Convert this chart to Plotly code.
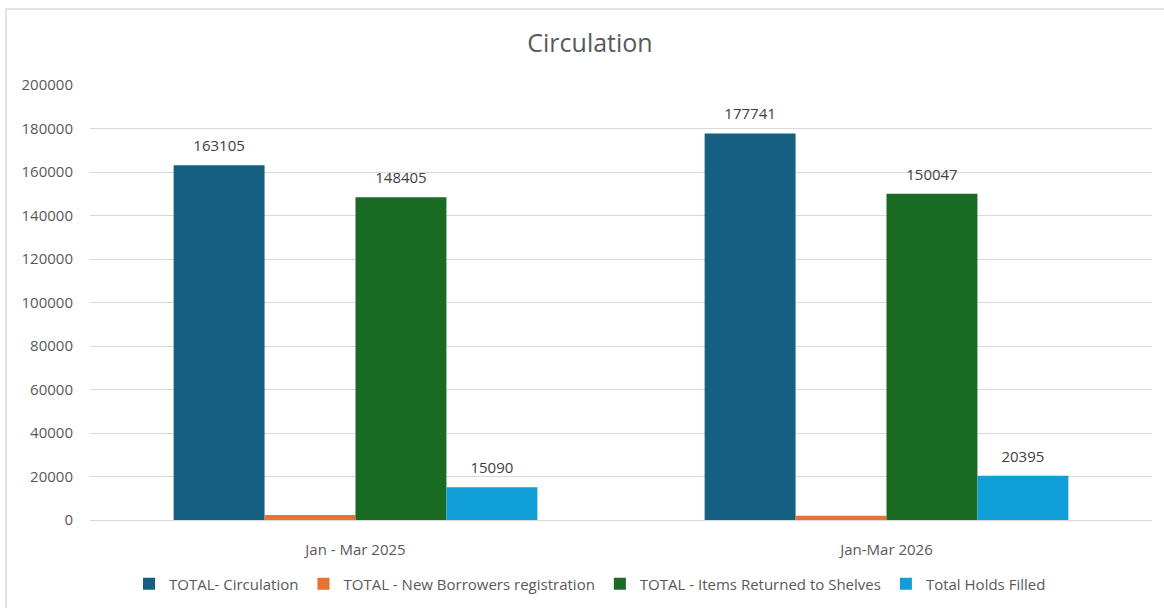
import plotly.graph_objects as go

categories = ["Jan - Mar 2025", "Jan-Mar 2026"]
series_names = [
    "TOTAL- Circulation",
    "TOTAL - New Borrowers registration",
    "TOTAL - Items Returned to Shelves",
    "Total Holds Filled",
]
circulation = [163105, 177741]
new_borrowers = [2350, 1900]
items_returned = [148405, 150047]
holds_filled = [15090, 20395]
show_labels = [True, False, True, True]
colors = ["#156082", "#E97132", "#196B24", "#0F9ED5"]
y_ticks = [0, 20000, 40000, 60000, 80000, 100000, 120000, 140000, 160000, 180000, 200000]

values = [circulation, new_borrowers, items_returned, holds_filled]

FONT = "Open Sans, sans-serif"
fig = go.Figure()
for name, vals, col, lab in zip(series_names, values, colors, show_labels):
    fig.add_trace(go.Bar(
        x=categories, y=vals, name=name, marker=dict(color=col, line=dict(width=0)),
        text=[str(v) for v in vals] if lab else None,
        texttemplate="<span style='font-size:15px'>%{text}</span><br> " if lab else None,
        textposition="outside" if lab else "none",
        textfont=dict(family=FONT, size=7, color="#404040"),
        cliponaxis=False,
    ))

W, H = 1164, 608
L, R, T, B = 90, 12, 85, 88
pw, ph = W - L - R, H - T - B

def px2paper_x(px):
    return (px - L) / pw

def px2paper_y(py):
    return (H - B - py) / ph

fig.update_layout(
    width=W, height=H,
    margin=dict(l=L, r=R, t=T, b=B, autoexpand=False),
    paper_bgcolor="white", plot_bgcolor="white",
    barmode="group", bargap=0.315, bargroupgap=0,
    title=dict(text="Circulation", x=px2paper_x(590), xref="paper", xanchor="center",
               y=1 - 43 / H, yanchor="middle",
               font=dict(family=FONT, size=25, color="#595959")),
    font=dict(family=FONT, color="#595959"),
    showlegend=True,
    legend=dict(orientation="h", x=px2paper_x(590), xanchor="center",
                y=px2paper_y(584), yanchor="middle", yref="paper",
                font=dict(family=FONT, size=15, color="#595959"),
                itemwidth=30, traceorder="normal"),
    xaxis=dict(showgrid=False, showline=True, linecolor="#d9d9d9", linewidth=1,
               tickfont=dict(family=FONT, size=15, color="#595959"),
               ticks="", ticklabelstandoff=16),
    yaxis=dict(range=[0, 200000], tickvals=y_ticks, ticktext=[str(v) for v in y_ticks],
               showgrid=True, gridcolor="#d9d9d9",
               gridwidth=1, zeroline=False, showline=False,
               tickfont=dict(family=FONT, size=15, color="#595959"),
               ticklabelstandoff=16),
    shapes=[dict(type="rect", xref="paper", yref="paper",
                 x0=px2paper_x(6), x1=px2paper_x(1175),
                 y0=px2paper_y(620), y1=px2paper_y(9),
                 line=dict(color="#d9d9d9", width=1.5), fillcolor="rgba(0,0,0,0)", layer="below")],
)

fig.write_html("out.html")
